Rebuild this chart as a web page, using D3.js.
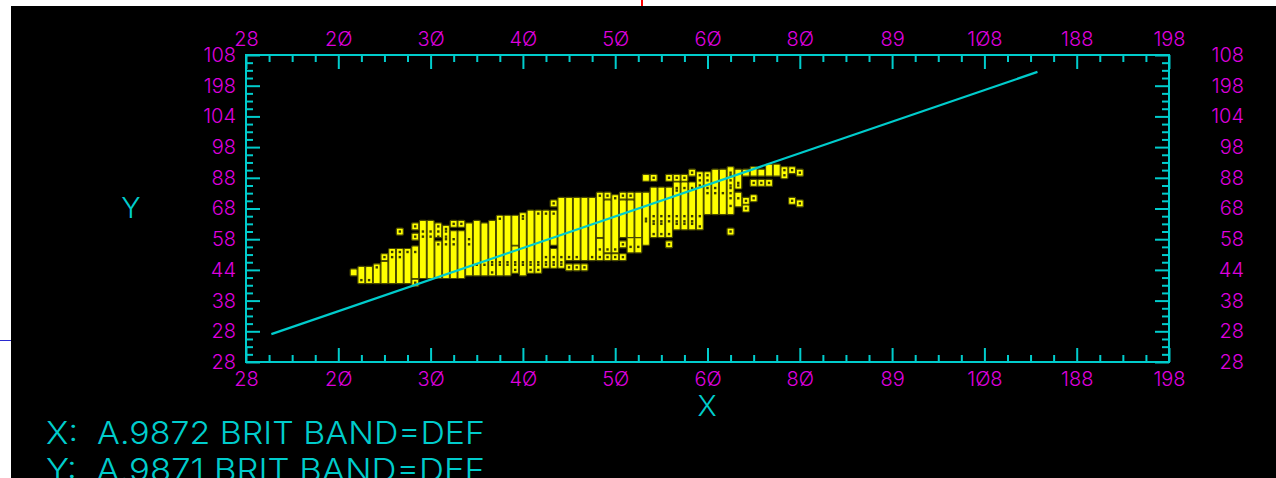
<!DOCTYPE html>
<html>
<head>
<meta charset="utf-8">
<script src="https://cdn.jsdelivr.net/npm/d3@7"></script>
<style>
  body { margin: 0; background: #fff; }
  text { font-family: Inter, "DejaVu Sans", sans-serif; font-weight: 300; }
  .footer { white-space: pre; }
</style>
</head>
<body>
<svg id="chart" width="1276" height="478"></svg>
<script>
// tick labels as they appear on the plotter output
const xLabels = ['28', '2Ø', '3Ø', '4Ø', '5Ø', '6Ø', '8Ø', '89', '1Ø8', '188', '198'];
const yLabels = ['28', '28', '38', '44', '58', '68', '88', '98', '104', '198', '108'];

// yellow columns: [column, low, high]
const segments = [
  [14,35,35],[15,32,36],[16,32,36],[17,32,37],[18,32,38],[18,41,41],
  [19,32,43],[20,32,43],[20,51,51],[21,32,43],
  [22,31,31],[22,34,44],[22,49,49],[22,53,53],
  [23,34,54],[24,34,54],[25,34,46],[25,50,53],[26,34,52],
  [27,34,50],[27,54,54],[28,34,50],[28,54,54],
  [29,35,53],[30,35,54],[31,35,53],[32,35,54],[33,35,56],[34,35,56],
  [35,36,44],[35,47,56],[36,35,57],[37,36,58],[38,36,58],[39,38,58],
  [40,38,43],[40,47,58],[40,62,62],[41,38,63],
  [42,37,37],[42,41,63],[43,37,37],[43,41,63],[44,37,37],[44,41,63],[45,41,63],
  [46,41,47],[46,50,65],[47,41,41],[47,44,62],[47,65,65],
  [48,41,41],[48,44,64],[49,41,41],[49,46,46],[49,50,62],[49,65,65],
  [50,44,48],[50,50,62],[50,65,65],[51,44,48],[51,50,65],
  [52,47,65],[52,72,72],[53,50,67],[53,72,72],[54,50,67],
  [55,46,46],[55,50,67],[55,72,72],[56,53,69],[56,72,72],
  [57,53,69],[57,72,72],[58,53,69],[58,74,74],[59,53,73],
  [60,59,73],[61,59,74],[62,59,74],[63,51,51],[63,59,75],
  [64,62,65],[64,69,74],[65,60,60],[65,63,63],[65,74,74],
  [66,64,64],[66,70,70],[66,74,75],[67,70,70],[67,74,74],
  [68,70,70],[68,74,76],[69,74,76],[70,73,75],
  [71,63,63],[71,75,75],[72,62,62],[72,74,74]
];

// dark centre dots still visible on the markers: [column, y]
const dots = [
  [15,32],[16,32],[17,37],[18,41],[19,43],[19,41],[20,43],[20,41],[20,51],[21,43],
  [22,43],[22,31],[22,53],[22,49],[23,51],[23,49],[24,51],[24,49],
  [25,53],[25,51],[25,49],[25,46],[26,52],[26,51],[26,49],[26,48],[26,46],
  [27,54],[27,48],[27,46],[28,54],[29,48],[29,46],[30,38],[31,38],
  [32,39],[32,38],[32,35],[33,56],[33,39],[33,38],[34,39],[34,38],
  [35,39],[35,38],[35,36],[36,57],[36,56],[36,39],[36,38],[37,39],[37,38],[37,36],
  [38,58],[38,39],[38,38],[38,36],[39,58],[39,41],[39,39],[39,38],
  [40,62],[40,58],[40,41],[40,39],[40,38],[41,41],[41,39],[41,38],
  [42,41],[42,37],[43,41],[43,37],[44,37],[45,41],
  [46,65],[46,44],[46,41],[47,65],[47,44],[47,41],[48,64],[48,44],[48,41],
  [49,65],[49,46],[49,41],[50,65],[50,45],[51,45],[52,56],[52,55],
  [53,72],[53,57],[53,55],[53,54],[53,50],[54,57],[54,55],[54,54],[54,50],
  [55,72],[55,57],[55,55],[55,50],[55,46],[56,72],[56,68],[56,67],[56,57],[56,55],[56,54],
  [57,72],[57,68],[57,57],[57,55],[57,54],[58,74],[58,68],[58,57],[58,55],[58,54],
  [59,73],[59,71],[59,69],[59,57],[59,53],[60,73],[60,71],[60,68],[60,66],
  [61,68],[61,66],[62,66],[63,74],[63,73],[63,71],[63,69],[63,68],[63,66],[63,64],[63,61],[63,51],
  [64,70],[64,69],[64,64],[65,63],[65,60],[66,70],[66,64],[67,70],[68,70],
  [70,75],[70,73],[71,75],[71,63],[72,74],[72,62]
];

// fitted line
const lineX = [3.3, 102.9];
const lineY = [10.9, 113.4];

const cyan = '#00cccc';
const magenta = '#dd00dd';

const svg = d3.select('#chart');

// black screen area + stray marks at the edge
svg.append('rect').attr('x', 11).attr('y', 6).attr('width', 1265).attr('height', 472).attr('fill', '#000');
svg.append('line').attr('x1', 642).attr('x2', 642).attr('y1', 0).attr('y2', 6).attr('stroke', '#ff0000').attr('stroke-width', 2);
svg.append('line').attr('x1', 0).attr('x2', 11).attr('y1', 340.5).attr('y2', 340.5).attr('stroke', '#2a2ad0').attr('stroke-width', 1);

const x = d3.scaleLinear().domain([0, 120]).range([246, 1169]);
const y = d3.scaleLinear().domain([0, 120]).range([362, 55]);

const minor = d3.range(0, 121, 3).filter(v => v % 12 !== 0);
const major = d3.range(0, 121, 12);

const styleAxis = g => {
  g.select('.domain').remove();
  g.selectAll('line').attr('stroke', cyan).attr('stroke-width', 2);
};

// tick marks, all pointing into the frame
const tickSets = [[minor, 7], [major, 14]];
tickSets.forEach(([vals, len]) => {
  svg.append('g').attr('transform', 'translate(0,55)')
    .call(d3.axisBottom(x).tickValues(vals).tickSize(len).tickFormat(''))
    .call(styleAxis);
  svg.append('g').attr('transform', 'translate(0,362)')
    .call(d3.axisTop(x).tickValues(vals).tickSize(len).tickFormat(''))
    .call(styleAxis);
  svg.append('g').attr('transform', 'translate(246,0)')
    .call(d3.axisRight(y).tickValues(vals).tickSize(len).tickFormat(''))
    .call(styleAxis);
  svg.append('g').attr('transform', 'translate(1169,0)')
    .call(d3.axisLeft(y).tickValues(vals).tickSize(len).tickFormat(''))
    .call(styleAxis);
});

svg.append('rect')
  .attr('x', x(0)).attr('y', y(120))
  .attr('width', x(120) - x(0)).attr('height', y(0) - y(120))
  .attr('fill', 'none').attr('stroke', cyan).attr('stroke-width', 2);

// tick labels
const styleLabels = g => {
  g.select('.domain').remove();
  g.selectAll('text').attr('fill', magenta).attr('font-size', 20)
    .attr('font-family', 'Inter, "DejaVu Sans", sans-serif');
};
svg.append('g').attr('transform', 'translate(0,55)')
  .call(d3.axisTop(x).tickValues(major).tickSize(0).tickPadding(9).tickFormat((d, i) => xLabels[i]))
  .call(styleLabels);
svg.append('g').attr('transform', 'translate(0,362)')
  .call(d3.axisBottom(x).tickValues(major).tickSize(0).tickPadding(10).tickFormat((d, i) => xLabels[i]))
  .call(styleLabels);
svg.append('g').attr('transform', 'translate(246,0)')
  .call(d3.axisLeft(y).tickValues(major).tickSize(0).tickPadding(10).tickFormat((d, i) => yLabels[i]))
  .call(styleLabels);
svg.append('g').attr('transform', 'translate(1254,0)')
  .call(d3.axisLeft(y).tickValues(major).tickSize(0).tickPadding(10).tickFormat((d, i) => yLabels[i]))
  .call(styleLabels);

// yellow markers
const half = 3.5;
svg.append('g').selectAll('rect')
  .data(segments)
  .enter()
  .append('rect')
  .attr('x', d => x(d[0]) - half)
  .attr('y', d => y(d[2]) - half)
  .attr('width', half * 2)
  .attr('height', d => y(d[1]) - y(d[2]) + half * 2)
  .attr('rx', 1)
  .attr('fill', '#ffff00')
  .attr('stroke', '#4a4a00')
  .attr('stroke-width', 1.2);

svg.append('g').selectAll('rect')
  .data(dots)
  .enter()
  .append('rect')
  .attr('x', d => x(d[0]) - 1.2)
  .attr('y', d => y(d[1]) - 1.2)
  .attr('width', 2.4)
  .attr('height', 2.4)
  .attr('fill', '#3a3a00');

// the line goes on top of the markers
svg.append('path')
  .datum(lineX.map((v, i) => [v, lineY[i]]))
  .attr('d', d3.line().x(d => x(d[0])).y(d => y(d[1])))
  .attr('fill', 'none')
  .attr('stroke', cyan)
  .attr('stroke-width', 2.2);

// axis titles
svg.append('text').attr('x', 707).attr('y', 416).attr('text-anchor', 'middle')
  .attr('font-size', 29).attr('fill', cyan).text('X');
svg.append('text').attr('x', 131).attr('y', 218).attr('text-anchor', 'middle')
  .attr('font-size', 29).attr('fill', cyan).text('Y');

// footer (second line is cut by the screen edge in the original too)
const footer = ['X:  A.9872 BRIT BAND=DEF', 'Y:  A.9871 BRIT BAND=DEF'];
svg.append('g').selectAll('text')
  .data(footer)
  .enter()
  .append('text')
  .attr('class', 'footer')
  .attr('x', 46)
  .attr('y', (d, i) => 444 + i * 37)
  .attr('font-size', 31)
  .attr('fill', cyan)
  .attr('textLength', 439)
  .attr('lengthAdjust', 'spacingAndGlyphs')
  .text(d => d);
</script>
</body>
</html>
